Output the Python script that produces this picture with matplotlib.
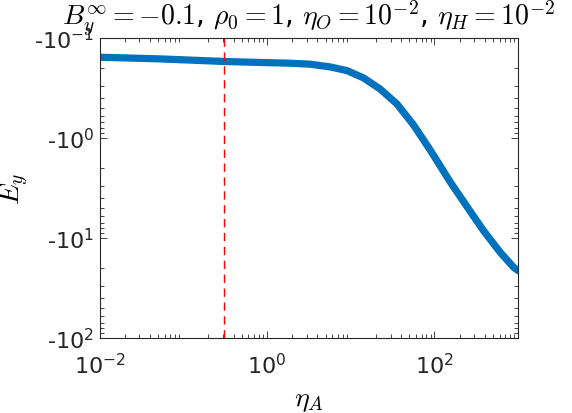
import matplotlib
matplotlib.use('Agg')
import matplotlib.pyplot as plt
import matplotlib.ticker as mticker
import numpy as np

# values
eta_A = [0.01, 0.053, 0.31, 0.83, 1.89, 3.27, 5.68, 8.98, 14.2, 22.4, 35.6,
         56.1, 88.9, 154, 244, 385, 609, 879, 1000]
E_y = [-0.156, -0.162, -0.172, -0.176, -0.179, -0.183, -0.195, -0.212,
       -0.251, -0.324, -0.457, -0.74, -1.32, -2.75, -4.85, -8.45, -13.9,
       -19.6, -21.2]
eta_crit = 0.31
y_exps = [-1, 0, 1, 2]
x_exps = [-2, 0, 2]

axcol = '#262626'
fig = plt.figure(figsize=(5.72, 4.14), dpi=100)
ax = fig.add_axes([0.174, 0.181, 0.732, 0.725])

ax.plot(eta_A, -np.array(E_y), color='#0072BD', lw=5.2,
        solid_capstyle='round', solid_joinstyle='round')
ax.axvline(eta_crit, color='#FF0000', ls=(0, (6, 4)), lw=1.0)

ax.set_xscale('log')
ax.set_yscale('log')
ax.set_xlim(1e-2, 1e3)
ax.set_ylim(100, 0.1)

ax.xaxis.set_major_locator(mticker.FixedLocator([10.0 ** e for e in x_exps]))
ax.xaxis.set_major_formatter(mticker.FixedFormatter(['10$^{%d}$' % e for e in x_exps]))
ax.yaxis.set_major_locator(mticker.FixedLocator([10.0 ** e for e in y_exps]))
ax.yaxis.set_major_formatter(mticker.FixedFormatter(['-10$^{%d}$' % e for e in y_exps]))
ax.xaxis.set_minor_locator(mticker.LogLocator(subs=np.arange(2, 10), numticks=20))
ax.yaxis.set_minor_locator(mticker.LogLocator(subs=np.arange(2, 10), numticks=20))
ax.xaxis.set_minor_formatter(mticker.NullFormatter())
ax.yaxis.set_minor_formatter(mticker.NullFormatter())

ax.tick_params(which='both', direction='in', top=True, right=True,
               color=axcol, labelcolor=axcol, labelsize=16, width=0.6)
ax.tick_params(which='major', length=5)
ax.tick_params(which='minor', length=3)
ax.tick_params(axis='x', pad=10)
ax.tick_params(axis='y', pad=4)
for s in ax.spines.values():
    s.set_color(axcol)
    s.set_linewidth(0.8)

ax.set_title(r'$B_y^{\infty}=-0.1$, $\rho_0=1$, $\eta_O=10^{-2}$, $\eta_H=10^{-2}$',
             fontsize=20, math_fontfamily='cm', pad=3)
ax.set_xlabel(r'$\eta_A$', fontsize=20, math_fontfamily='cm', labelpad=6)
ax.set_ylabel(r'$E_y$', fontsize=20, math_fontfamily='cm', labelpad=2)

fig.savefig('out.png', dpi=100)
